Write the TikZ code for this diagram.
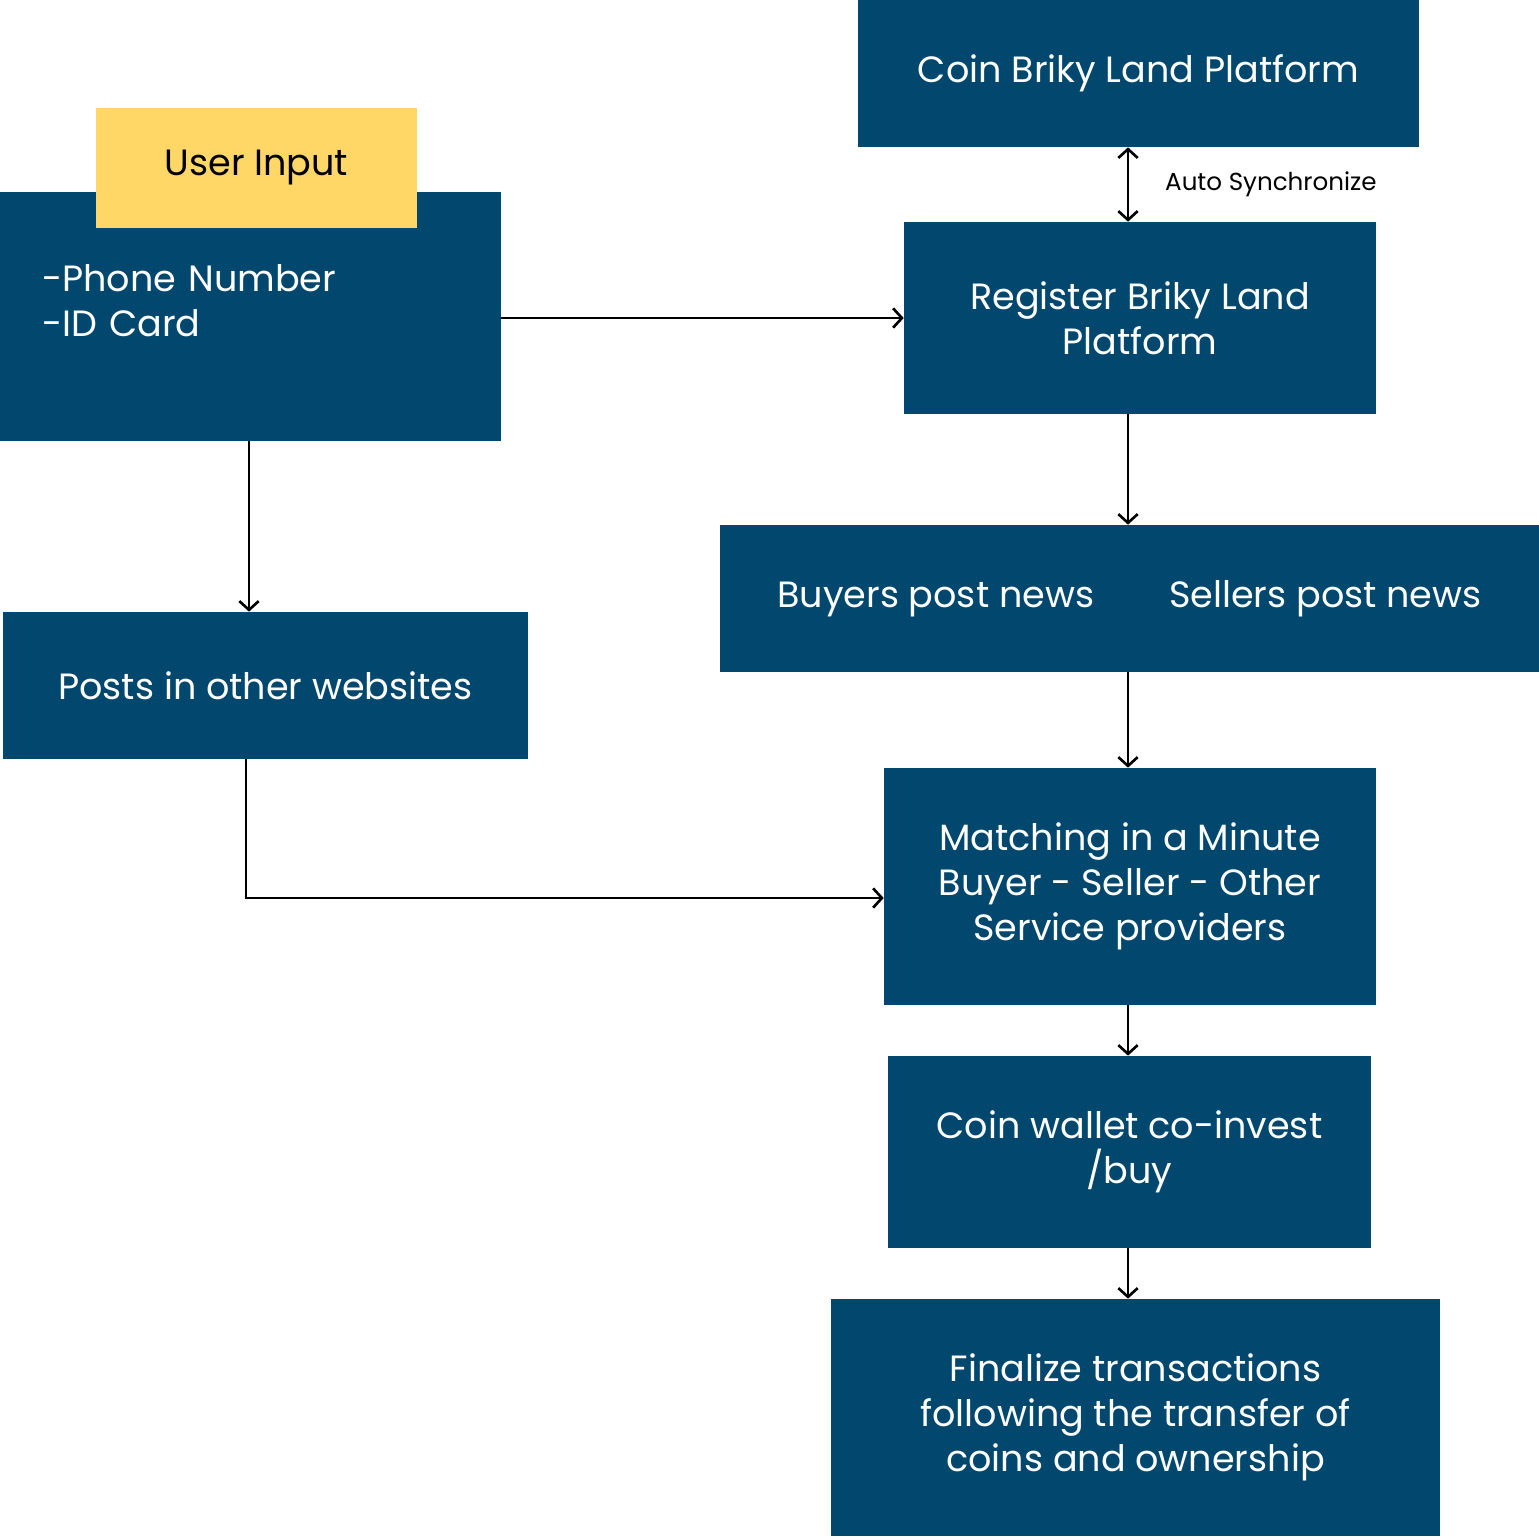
\documentclass[tikz,border=0pt]{standalone}
\usepackage{fontspec}
\setmainfont{Poppins}
\usepackage{color}
\usetikzlibrary{arrows.meta}
\definecolor{boxblue}{RGB}{2,71,110}
\definecolor{inputyellow}{RGB}{254,215,102}

\begin{document}
\begin{tikzpicture}[x=0.02cm,y=-0.02cm,
  stepbox/.style={fill=boxblue, text=white, align=center, inner sep=0pt,
    font=\fontsize{20.8}{25.5}\selectfont},
  flow/.style={draw=black, line width=1.5pt, -{Straight Barb[length=5pt,width=11pt]}},
  syncflow/.style={flow, {Straight Barb[length=5pt,width=11pt]}-{Straight Barb[length=5pt,width=11pt]}}]
\useasboundingbox (0,0) rectangle (1539,1536);
% \draw [help lines] (0,0) grid (1539,1536);
\coordinate (spine) at (1128,0);
\coordinate (bend) at (246,898);
%% right column
\node[stepbox, minimum width=11.22cm, minimum height=2.94cm] (coin) at (1138.5,73.5) {Coin Briky Land Platform};
\node[stepbox, minimum width=9.44cm, minimum height=3.84cm] (reg) at (1140,318) {Register Briky Land\\Platform};
\node[stepbox, minimum width=16.38cm, minimum height=2.94cm] (news) at (1129.5,598.5) {Buyers post news\hspace{1.5cm}Sellers post news};
\node[stepbox, minimum width=9.84cm, minimum height=4.74cm] (match) at (1130,886.5) {Matching in a Minute\\Buyer - Seller - Other\\Service providers};
\node[stepbox, minimum width=9.66cm, minimum height=3.84cm] (wallet) at (1129.5,1152) {Coin wallet co-invest\\/buy};
\node[stepbox, minimum width=12.18cm, minimum height=4.74cm] (final) at (1135.5,1417.5) {Finalize transactions\\following the transfer of\\coins and ownership};
%% left column
\node[stepbox, minimum width=10.02cm, minimum height=4.98cm, text width=8.34cm, align=left] (user) at (250.5,316.5) {-Phone Number\\-ID Card\\[-7.5pt]\mbox{}};
\node[fill=inputyellow, inner sep=0pt, minimum width=6.42cm, minimum height=2.4cm,
  font=\fontsize{20.8}{25.5}\selectfont] (input) at (256.5,168) {User Input};
\node[stepbox, minimum width=10.5cm, minimum height=2.94cm] (posts) at (265.5,685.5) {Posts in other websites};
%% arrows
\draw[syncflow] (coin.south -| spine) -- (reg.north -| spine)
  node[midway, right=0.6cm, font=\fontsize{14}{16}\selectfont] (sync) {Auto Synchronize};
\draw[flow] (user.east |- reg.west) -- (reg.west);
\draw[flow] (reg.south -| spine) -- (news.north -| spine);
\draw[flow] (news.south -| spine) -- (match.north -| spine);
\draw[flow] (match.south -| spine) -- (wallet.north -| spine);
\draw[flow] (wallet.south -| spine) -- (final.north -| spine);
\draw[flow] (user.south -| 249,0) -- (posts.north -| 249,0);
\draw[flow] (posts.south -| bend) -- (bend) -- (bend -| match.west);
\end{tikzpicture}
\end{document}
